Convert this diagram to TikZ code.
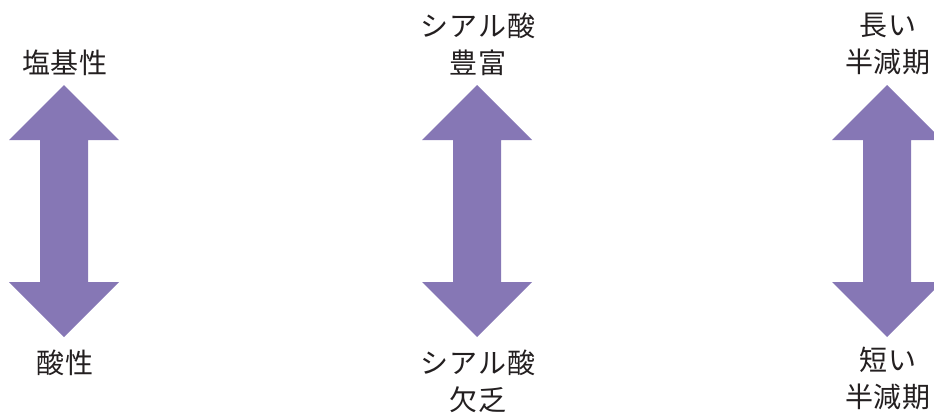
\documentclass[tikz,border=0pt]{standalone}
\usepackage{fontspec}
\newfontfamily\jp[LetterSpace=3]{Noto Sans CJK JP}
\definecolor{arrowpurple}{HTML}{8677B5}
\definecolor{txt}{HTML}{231F20}
\tikzset{
  lbl/.style={font=\jp\fontsize{28}{37}\selectfont, text=txt, align=center, inner sep=0pt},
  dblarrow/.style={fill=arrowpurple, draw=none}
}
\newcommand{\dblarr}[1]{%
  \fill[dblarrow] (#1,85) -- (#1+55,140) -- (#1+24,140) -- (#1+24,282) -- (#1+55,282)
    -- (#1,337) -- (#1-55,282) -- (#1-24,282) -- (#1-24,140) -- (#1-55,140) -- cycle;}
\begin{document}
\begin{tikzpicture}[x=1pt,y=-1pt]
\useasboundingbox (0,0) rectangle (934,415);
\dblarr{64}
\dblarr{477}
\dblarr{887}
\node[lbl] (a1) at (65,63) {塩基性};
\node[lbl] (a2) at (65,363) {酸性};
\node[lbl] (b1) at (478,44) {シアル酸\\豊富};
\node[lbl] (b2) at (478,381) {シアル酸\\欠乏};
\node[lbl] (c1) at (888,44) {長い\\半減期};
\node[lbl] (c2) at (888,378) {短い\\半減期};
\end{tikzpicture}
\end{document}
